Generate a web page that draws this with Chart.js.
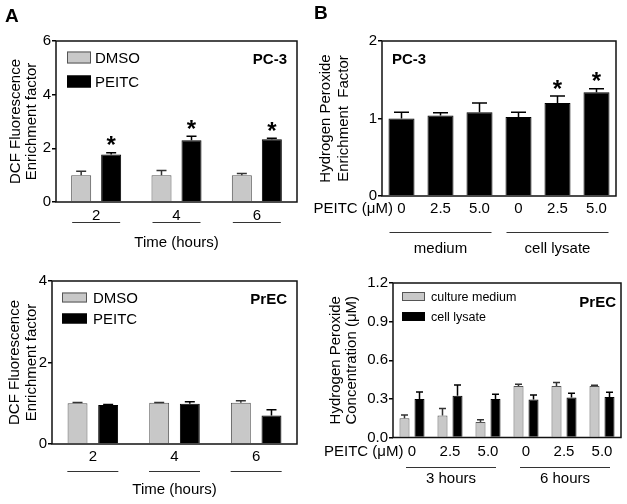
<!DOCTYPE html>
<html lang="en">
<head>
<meta charset="UTF-8">
<title>PEITC ROS</title>
<script src="https://cdn.jsdelivr.net/npm/chart.js"></script>
<style>
  body { margin: 0; background: #fff; font-family: 'Liberation Sans', Arial, sans-serif; }
  #fig { position: relative; width: 627px; height: 504px; overflow: hidden; }
  canvas { position: absolute; display: block; }
  .panel { position: absolute; font-weight: bold; font-size: 19px; line-height: 1; }
</style>
</head>
<body>
<div id="fig">
  <canvas id="a1" width="310" height="250" style="left:0;top:0"></canvas>
  <canvas id="a2" width="310" height="254" style="left:0;top:250px"></canvas>
  <canvas id="b2" width="317" height="254" style="left:310px;top:250px"></canvas>
  <canvas id="b1" width="317" height="262" style="left:310px;top:0"></canvas>
  <div class="panel" style="left:5px;top:6px">A</div>
  <div class="panel" style="left:314px;top:3px">B</div>
</div>

<script>
  // A, PC-3: DCF fluorescence
  const aHours = ['2', '4', '6'];
  const aPc3Dmso = [1.0, 1.0, 1.0];
  const aPc3DmsoErr = [0.15, 0.17, 0.06];
  const aPc3Peitc = [1.77, 2.30, 2.34];
  const aPc3PeitcErr = [0.07, 0.15, 0.04];
  const aPc3Sig = [true, true, true];

  // A, PrEC
  const aPrecDmso = [1.00, 1.01, 1.01];
  const aPrecDmsoErr = [0.02, 0.01, 0.05];
  const aPrecPeitc = [0.96, 0.985, 0.70];
  const aPrecPeitcErr = [0.01, 0.05, 0.14];

  // B, PC-3: H2O2 enrichment
  const bDoses = ['0', '2.5', '5.0', '0', '2.5', '5.0'];
  const bPc3 = [1.00, 1.04, 1.08, 1.02, 1.20, 1.34];
  const bPc3Err = [0.08, 0.035, 0.12, 0.06, 0.09, 0.045];
  const bPc3Sig = [false, false, false, false, true, true];
  const bPc3Groups = ['medium', 'cell lysate'];

  // B, PrEC: H2O2 concentration (uM)
  const bPrecMedium = [0.15, 0.17, 0.12, 0.40, 0.40, 0.40];
  const bPrecMediumErr = [0.025, 0.055, 0.018, 0.013, 0.028, 0.006];
  const bPrecLysate = [0.30, 0.325, 0.30, 0.295, 0.31, 0.315];
  const bPrecLysateErr = [0.054, 0.083, 0.035, 0.036, 0.033, 0.036];
  const bPrecGroups = ['3 hours', '6 hours'];

  const FONT = "'Liberation Sans', Arial, sans-serif";
  const GRAY = '#c8c8c8';
  Chart.defaults.font.family = FONT;
  Chart.defaults.font.size = 15;
  Chart.defaults.color = '#000';

  // error bars, stars, frame, legend, tag, group lines
  const decor = {
    id: 'decor',
    afterDatasetsDraw(chart, args, o) {
      const ctx = chart.ctx, y = chart.scales.y, area = chart.chartArea;
      ctx.save();
      chart.data.datasets.forEach((ds, i) => {
        chart.getDatasetMeta(i).data.forEach((bar, j) => {
          const top = y.getPixelForValue(ds.data[j] + o.errs[i][j]);
          ctx.strokeStyle = o.errColor[i];
          ctx.lineWidth = 1.5;
          ctx.beginPath();
          ctx.moveTo(bar.x, bar.y);
          ctx.lineTo(bar.x, top);
          ctx.moveTo(bar.x - o.cap / 2, top);
          ctx.lineTo(bar.x + o.cap / 2, top);
          ctx.stroke();
          if (o.sig[i] && o.sig[i][j]) {
            ctx.fillStyle = '#000';
            ctx.font = 'bold 24px ' + FONT;
            ctx.textAlign = 'center';
            ctx.textBaseline = 'alphabetic';
            ctx.fillText('*', bar.x, top + 0.5);
          }
        });
      });
      ctx.strokeStyle = '#111';
      ctx.lineWidth = 1.5;
      ctx.strokeRect(area.left, area.top, area.right - area.left, area.bottom - area.top);
      ctx.restore();
    },
    afterDraw(chart, args, o) {
      const ctx = chart.ctx, x = chart.scales.x, area = chart.chartArea;
      ctx.save();
      ctx.textBaseline = 'middle';
      if (o.legend) {
        const L = o.legend;
        chart.data.datasets.forEach((ds, i) => {
          const bx = area.left + L.dx, by = area.top + L.rows[i] - L.h / 2;
          ctx.fillStyle = ds.backgroundColor;
          ctx.fillRect(bx, by, L.w, L.h);
          ctx.strokeStyle = ds.borderColor;
          ctx.lineWidth = 1;
          ctx.strokeRect(bx + 0.5, by + 0.5, L.w - 1, L.h - 1);
          ctx.fillStyle = '#000';
          ctx.font = L.size + 'px ' + FONT;
          ctx.textAlign = 'left';
          ctx.fillText(ds.label, bx + L.w + L.gap, area.top + L.rows[i] + 1);
        });
      }
      if (o.tag) {
        ctx.font = 'bold 15px ' + FONT;
        ctx.fillStyle = '#000';
        ctx.textAlign = o.tag.align;
        const tx = o.tag.align === 'right' ? area.right + o.tag.dx : area.left + o.tag.dx;
        ctx.fillText(o.tag.text, tx, area.top + o.tag.dy);
      }
      const g = o.groups;
      ctx.font = '15px ' + FONT;
      ctx.textAlign = 'center';
      g.spans.forEach((s, k) => {
        const x0 = x.getPixelForValue(s[0]) - g.padL;
        const x1 = x.getPixelForValue(s[1]) + g.padR;
        const ly = Math.round(area.bottom + g.lineDy) + 0.5;
        ctx.strokeStyle = '#333';
        ctx.lineWidth = 1;
        ctx.beginPath();
        ctx.moveTo(x0, ly);
        ctx.lineTo(x1, ly);
        ctx.stroke();
        if (g.labels) {
          ctx.fillStyle = '#000';
          ctx.fillText(g.labels[k], (x0 + x1) / 2, area.bottom + g.labelDy);
        }
      });
      if (o.prefix) {
        ctx.textAlign = 'right';
        ctx.fillStyle = '#000';
        ctx.fillText(o.prefix.text, x.getPixelForValue(0) - 8.5, area.bottom + o.prefix.dy);
      }
      ctx.restore();
    }
  };

  function makeChart(id, o) {
    return new Chart(document.getElementById(id), {
      type: 'bar',
      data: { labels: o.labels, datasets: o.datasets },
      options: {
        responsive: false,
        animation: false,
        devicePixelRatio: 1,
        layout: { padding: o.pad },
        plugins: { legend: { display: false }, tooltip: { enabled: false }, decor: o.decor },
        scales: {
          x: {
            grid: { display: false, drawTicks: false },
            border: { display: false },
            ticks: { padding: o.xPad, font: { size: 15 } },
            title: o.xTitle
              ? { display: true, text: o.xTitle, font: { size: 15, lineHeight: '15px' }, padding: { top: 0, bottom: o.xTitlePad } }
              : { display: false },
            afterFit: s => { s.height = o.xHeight; }
          },
          y: {
            min: 0,
            max: o.yMax,
            grid: { drawOnChartArea: false, tickLength: 4, color: '#000', lineWidth: 1.5 },
            border: { display: false },
            ticks: { stepSize: o.yStep, padding: 1, font: { size: 15 }, callback: o.yFmt || (v => v) },
            title: {
              display: true, text: o.yTitle,
              font: { size: 15, lineHeight: o.yLine + 'px' },
              padding: { top: o.yTitlePad, bottom: 0 }
            },
            afterFit: s => { s.width = o.yWidth; }
          }
        }
      },
      plugins: [decor]
    });
  }

  makeChart('a1', {
    labels: aHours,
    datasets: [
      { label: 'DMSO', data: aPc3Dmso, backgroundColor: GRAY, borderColor: '#555', borderWidth: 1, barPercentage: 0.667, categoryPercentage: 0.747 },
      { label: 'PEITC', data: aPc3Peitc, backgroundColor: '#000', borderColor: '#000', borderWidth: 1, barPercentage: 0.667, categoryPercentage: 0.747 }
    ],
    pad: { left: 0, top: 41, right: 13, bottom: 0 },
    yWidth: 56, xHeight: 48, yMax: 6, yStep: 2, xPad: 5,
    yTitle: ['DCF Fluorescence', 'Enrichment factor'], yLine: 16, yTitlePad: 8,
    xTitle: 'Time (hours)', xTitlePad: 0,
    decor: {
      errs: [aPc3DmsoErr, aPc3PeitcErr], sig: [null, aPc3Sig], errColor: ['#333', '#000'], cap: 10,
      legend: { dx: 11, rows: [16.5, 40.5], w: 24, h: 12, gap: 4, size: 15 },
      tag: { text: 'PC-3', dx: -10, dy: 19, align: 'right' },
      groups: { spans: [[0, 0], [1, 1], [2, 2]], padL: 24, padR: 24, lineDy: 20 }
    }
  });

  makeChart('a2', {
    labels: aHours,
    datasets: [
      { label: 'DMSO', data: aPrecDmso, backgroundColor: GRAY, borderColor: '#555', borderWidth: 1, barPercentage: 0.65, categoryPercentage: 0.75 },
      { label: 'PEITC', data: aPrecPeitc, backgroundColor: '#000', borderColor: '#000', borderWidth: 1, barPercentage: 0.65, categoryPercentage: 0.75 }
    ],
    pad: { left: 0, top: 31, right: 13, bottom: 0 },
    yWidth: 52, xHeight: 60, yMax: 4, yStep: 2, xPad: 4,
    yTitle: ['DCF Fluorescence', 'Enrichment factor'], yLine: 17, yTitlePad: 6,
    xTitle: 'Time (hours)', xTitlePad: 6.5,
    decor: {
      errs: [aPrecDmsoErr, aPrecPeitcErr], sig: [null, null], errColor: ['#333', '#000'], cap: 10,
      legend: { dx: 10, rows: [16.5, 37.5], w: 25, h: 10, gap: 6, size: 15 },
      tag: { text: 'PrEC', dx: -10, dy: 19, align: 'right' },
      groups: { spans: [[0, 0], [1, 1], [2, 2]], padL: 25.5, padR: 25.5, lineDy: 27 }
    }
  });

  makeChart('b1', {
    labels: bDoses,
    datasets: [
      { label: 'PC-3', data: bPc3, backgroundColor: '#000', borderColor: '#000', borderWidth: 1, barPercentage: 0.667, categoryPercentage: 1 }
    ],
    pad: { left: 0, top: 41, right: 11, bottom: 0 },
    yWidth: 72, xHeight: 66, yMax: 2, yStep: 1, xPad: 4,
    yTitle: ['Hydrogen Peroxide', 'Enrichment  Factor'], yLine: 18, yTitlePad: 7,
    decor: {
      errs: [bPc3Err], sig: [bPc3Sig], errColor: ['#000'], cap: 15,
      tag: { text: 'PC-3', dx: 10, dy: 19, align: 'left' },
      groups: { spans: [[0, 2], [3, 5]], labels: bPc3Groups, padL: 12, padR: 12, lineDy: 36, labelDy: 53 },
      prefix: { text: 'PEITC (\u03BCM)', dy: 13 }
    }
  });

  makeChart('b2', {
    labels: bDoses,
    datasets: [
      { label: 'culture medium', data: bPrecMedium, backgroundColor: GRAY, borderColor: '#555', borderWidth: 1, barPercentage: 0.667, categoryPercentage: 0.79 },
      { label: 'cell lysate', data: bPrecLysate, backgroundColor: '#000', borderColor: '#000', borderWidth: 1, barPercentage: 0.667, categoryPercentage: 0.79 }
    ],
    pad: { left: 0, top: 33, right: 6, bottom: 0 },
    yWidth: 83, xHeight: 66.5, yMax: 1.2, yStep: 0.3, xPad: 5.5,
    yFmt: v => v.toFixed(1),
    yTitle: ['Hydrogen Peroxide', 'Concentration (\u03BCM)'], yLine: 16, yTitlePad: 18,
    decor: {
      errs: [bPrecMediumErr, bPrecLysateErr], sig: [null, null], errColor: ['#333', '#000'], cap: 7,
      legend: { dx: 9, rows: [13.5, 33.5], w: 23, h: 9, gap: 6, size: 12.5 },
      tag: { text: 'PrEC', dx: -5, dy: 20, align: 'right' },
      groups: { spans: [[0, 2], [3, 5]], labels: bPrecGroups, padL: 6, padR: 8, lineDy: 29, labelDy: 41.5 },
      prefix: { text: 'PEITC (\u03BCM)', dy: 14.5 }
    }
  });
</script>
</body>
</html>
